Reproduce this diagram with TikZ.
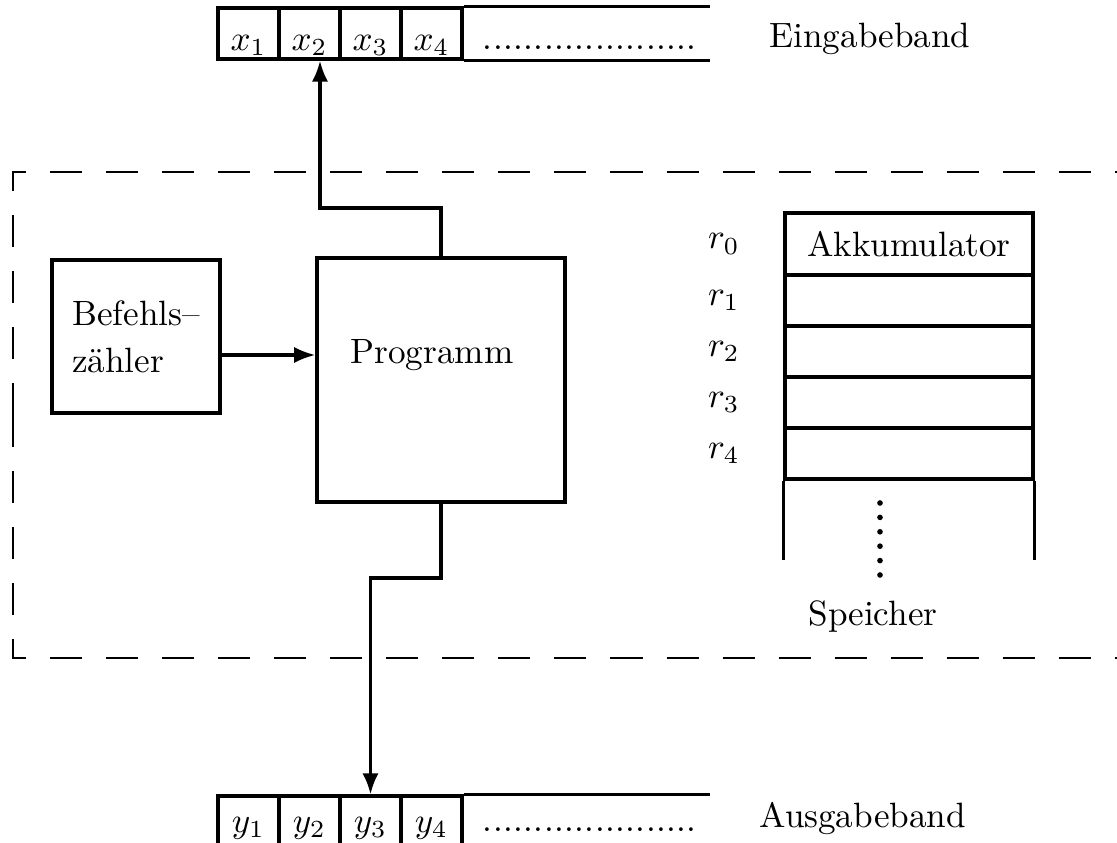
\documentclass[tikz,border=0pt]{standalone}
\usepackage{tikz}
\usetikzlibrary{arrows.meta,positioning}

\newcommand{\tapedots}{\hbox to 61pt{\leaders\hbox to 2.9pt{\hss.\hss}\hfill}}

\begin{document}
\begin{tikzpicture}[x=0.01cm, y=-0.01cm, line width=0.9pt,
  every node/.style={inner sep=2pt}, node distance=3.5mm,
  box/.style={draw, inner sep=0pt},
  cell/.style={draw, minimum width=6.1mm, minimum height=5.1mm, inner sep=0pt,
    text height=9.5pt, text depth=0pt},
  lowcell/.style={cell, text height=6pt},
  reg/.style={draw, minimum width=24.8mm, minimum height=5.1mm, inner sep=0pt},
  frame/.style={line width=0.7pt, dash pattern=on 3.2mm off 2.4mm},
  arr/.style={-{Latex[length=6pt,width=4.6pt]}}]
\useasboundingbox (0,0) rectangle (1117,843);
\begin{scope}
  \node[cell] (x1) at (248.5,33.5) {$x_1$};
  \node[cell] (x2) at (309.5,33.5) {$x_2$};
  \node[cell] (x3) at (370.5,33.5) {$x_3$};
  \node[cell] (x4) at (431.5,33.5) {$x_4$};
  \coordinate (inend) at (710,8);
  \draw (x4.north east) -- (x4.north east -| inend);
  \draw (x4.south east) -- (x4.south east -| inend);
  \node[anchor=base] (indots) at (590,50) {\tapedots};
  \node[anchor=base west, inner sep=0pt] (inlabel) at (768,48) {Eingabeband};
\end{scope}
\begin{scope}
  \node[lowcell] (y1) at (248.5,821.5) {$y_1$};
  \node[lowcell] (y2) at (309.5,821.5) {$y_2$};
  \node[lowcell] (y3) at (370.5,821.5) {$y_3$};
  \node[lowcell] (y4) at (431.5,821.5) {$y_4$};
  \coordinate (outend) at (710,796);
  \draw (y4.north east) -- (y4.north east -| outend);
  \node[anchor=base] (outdots) at (590,832) {\tapedots};
  \node[anchor=base west, inner sep=0pt] (outlabel) at (758,828) {Ausgabeband};
\end{scope}
\coordinate (frl) at (13,415);
\coordinate (frt) at (1117,172);
\coordinate (frb) at (1117,658);
\draw[frame] (frl) |- (frt);
\draw[frame] (frl) |- (frb);
\node[box, minimum width=16.8mm, minimum height=15.3mm, align=left] (bz) at (136,336.5)
  {Befehls--\\[1.4pt]zähler};
\node[box, minimum width=24.8mm, minimum height=24.4mm] (prog) at (441,380) {};
\node (progtext) at (432,355) {Programm};
\draw[arr] (bz.east |- progtext) -- (prog.west |- progtext);
\coordinate (upturn) at (320,208);
\draw[arr] (prog.north) |- (upturn) -- (upturn |- x2.south);
\coordinate (downturn) at (370.5,578);
\draw[arr] (prog.south) |- (downturn) -- (y3.north);
\begin{scope}
  \node[reg, minimum height=6.2mm] (r0) at (909,244) {Akkumulator};
  \node[reg] (r1) at (909,300.5) {};
  \node[reg] (r2) at (909,351.5) {};
  \node[reg] (r3) at (909,402.5) {};
  \node[reg] (r4) at (909,453.5) {};
  \node[left=of r0] (l0) {$r_0$};
  \node[left=of r1] (l1) {$r_1$};
  \node[left=of r2] (l2) {$r_2$};
  \node[left=of r3] (l3) {$r_3$};
  \node[left=of r4] (l4) {$r_4$};
  \coordinate (memleft) at (785,560);
  \coordinate (memright) at (1033,560);
  \draw (r4.south west) -- (r4.south west |- memleft);
  \draw (r4.south east) -- (r4.south east |- memright);
  \foreach \k in {0,...,5} \fill (880,503+14.4*\k) circle (0.8pt);
  \node (mem) at (873,617) {Speicher};
\end{scope}
\end{tikzpicture}
\end{document}
